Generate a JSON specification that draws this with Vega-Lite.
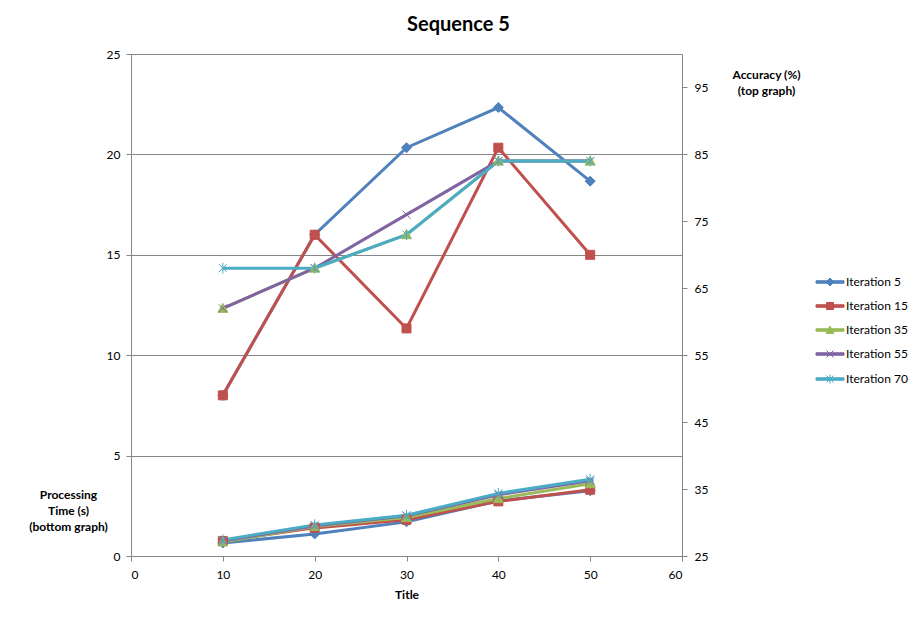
{
  "$schema": "https://vega.github.io/schema/vega-lite/v6.json",
  "width": 551,
  "height": 502,
  "autosize": {"type": "none"},
  "padding": {"left": 131, "top": 54, "right": 239, "bottom": 62},
  "background": "white",
  "title": {
    "text": "Sequence 5",
    "font": "Lato",
    "fontSize": 20,
    "fontWeight": "bold",
    "color": "black",
    "dx": 52,
    "offset": 13
  },
  "data": {
    "values": [
      {"x": 10, "series": "Iteration 5", "acc": 49, "time": 0.65},
      {"x": 20, "series": "Iteration 5", "acc": 73, "time": 1.1},
      {"x": 30, "series": "Iteration 5", "acc": 86, "time": 1.7},
      {"x": 40, "series": "Iteration 5", "acc": 92, "time": 2.75},
      {"x": 50, "series": "Iteration 5", "acc": 81, "time": 3.25},
      {"x": 10, "series": "Iteration 15", "acc": 49, "time": 0.75},
      {"x": 20, "series": "Iteration 15", "acc": 73, "time": 1.4},
      {"x": 30, "series": "Iteration 15", "acc": 59, "time": 1.8},
      {"x": 40, "series": "Iteration 15", "acc": 86, "time": 2.72},
      {"x": 50, "series": "Iteration 15", "acc": 70, "time": 3.3},
      {"x": 10, "series": "Iteration 35", "acc": 62, "time": 0.7},
      {"x": 20, "series": "Iteration 35", "acc": 68, "time": 1.47},
      {"x": 30, "series": "Iteration 35", "acc": 73, "time": 1.92},
      {"x": 40, "series": "Iteration 35", "acc": 84, "time": 2.86},
      {"x": 50, "series": "Iteration 35", "acc": 84, "time": 3.6},
      {"x": 10, "series": "Iteration 55", "acc": 62, "time": 0.75},
      {"x": 20, "series": "Iteration 55", "acc": 68, "time": 1.5},
      {"x": 30, "series": "Iteration 55", "acc": 76, "time": 2.0},
      {"x": 40, "series": "Iteration 55", "acc": 84, "time": 3.05},
      {"x": 50, "series": "Iteration 55", "acc": 84, "time": 3.75},
      {"x": 10, "series": "Iteration 70", "acc": 68, "time": 0.8},
      {"x": 20, "series": "Iteration 70", "acc": 68, "time": 1.55},
      {"x": 30, "series": "Iteration 70", "acc": 73, "time": 2.03},
      {"x": 40, "series": "Iteration 70", "acc": 84, "time": 3.12},
      {"x": 50, "series": "Iteration 70", "acc": 84, "time": 3.82}
    ]
  },
  "encoding": {
    "x": {
      "field": "x",
      "type": "quantitative",
      "scale": {"domain": [0, 60]},
      "axis": {
        "values": [0, 10, 20, 30, 40, 50, 60],
        "title": "Title",
        "grid": false,
        "labelPadding": 8,
        "titlePadding": 9
      }
    },
    "color": {
      "field": "series",
      "type": "nominal",
      "scale": {
        "domain": ["Iteration 5", "Iteration 15", "Iteration 35", "Iteration 55", "Iteration 70"],
        "range": ["#4F81BD", "#C0504D", "#9BBB59", "#8064A2", "#4BACC6"]
      },
      "legend": {
        "orient": "none",
        "legendX": 684,
        "legendY": 222,
        "title": null,
        "padding": 0,
        "symbolSize": 100,
        "symbolStrokeWidth": 1,
        "labelOffset": 19,
        "rowPadding": 12,
        "labelFont": "Lato",
        "labelFontSize": 12,
        "labelColor": "black"
      }
    },
    "stroke": {
      "field": "series",
      "type": "nominal",
      "scale": {
        "domain": ["Iteration 5", "Iteration 15", "Iteration 35", "Iteration 55", "Iteration 70"],
        "range": ["#4F81BD", "#C0504D", "#9BBB59", "#8064A2", "#4BACC6"]
      },
      "legend": {"title": null}
    }
  },
  "layer": [
    {
      "encoding": {
        "y": {
          "field": "time",
          "type": "quantitative",
          "scale": {"domain": [0, 25]},
          "axis": {
            "orient": "left",
            "values": [0, 5, 10, 15, 20, 25],
            "grid": true,
            "labelPadding": 6,
            "title": ["Processing", "Time (s)", "(bottom graph)"],
            "titleAngle": 0,
            "titleAlign": "center",
            "titleBaseline": "top",
            "titleX": -63,
            "titleY": 435,
            "titleLineHeight": 16
          }
        }
      },
      "layer": [
        {
          "mark": {"type": "point", "filled": true, "size": 1, "opacity": 1},
          "encoding": {
            "shape": {
              "field": "series",
              "type": "nominal",
              "scale": {
                "domain": ["Iteration 5", "Iteration 15", "Iteration 35", "Iteration 55", "Iteration 70"],
                "range": [
                  "M-1,-0.25H4.6V0.25H-1Z M1.8,-0.8L2.6,0L1.8,0.8L1,0Z",
                  "M-1,-0.25H4.6V0.25H-1Z M1.1,-0.7H2.5V0.7H1.1Z",
                  "M-1,-0.25H4.6V0.25H-1Z M1.8,-0.8L2.6,0.7H1Z",
                  "M-1,-0.25H4.6V0.25H-1Z M1.1,-0.7L2.5,0.7M1.1,0.7L2.5,-0.7",
                  "M-1,-0.25H4.6V0.25H-1Z M1.1,-0.7L2.5,0.7M1.1,0.7L2.5,-0.7M1.8,-0.9L1.8,0.9"
                ]
              },
              "legend": {"title": null}
            }
          }
        },
        {"mark": {"type": "line", "strokeWidth": 3}},
        {"transform": [{"filter": "datum.series === 'Iteration 5'"}], "mark": {"type": "point", "filled": true, "size": 100, "strokeWidth": 1, "opacity": 1, "shape": "M0,-1L1,0L0,1L-1,0Z"}},
        {"transform": [{"filter": "datum.series === 'Iteration 15'"}], "mark": {"type": "point", "filled": true, "size": 100, "strokeWidth": 1, "opacity": 1, "shape": "M-0.9,-0.9H0.9V0.9H-0.9Z"}},
        {"transform": [{"filter": "datum.series === 'Iteration 35'"}], "mark": {"type": "point", "filled": true, "size": 100, "strokeWidth": 1, "opacity": 1, "shape": "M0,-1L1,0.8H-1Z"}},
        {"transform": [{"filter": "datum.series === 'Iteration 55'"}], "mark": {"type": "point", "filled": true, "size": 100, "strokeWidth": 1, "opacity": 1, "shape": "M-0.8,-0.8L0.8,0.8M-0.8,0.8L0.8,-0.8"}},
        {"transform": [{"filter": "datum.series === 'Iteration 70'"}], "mark": {"type": "point", "filled": true, "size": 100, "strokeWidth": 1, "opacity": 1, "shape": "M-0.8,-0.8L0.8,0.8M-0.8,0.8L0.8,-0.8M0,-1.1L0,1.1"}}
      ]
    },
    {
      "encoding": {
        "y": {
          "field": "acc",
          "type": "quantitative",
          "scale": {"domain": [25, 100]},
          "axis": {
            "orient": "right",
            "values": [25, 35, 45, 55, 65, 75, 85, 95],
            "grid": false,
            "labelPadding": 7,
            "title": ["Accuracy  (%)", "(top graph)"],
            "titleAngle": 0,
            "titleAlign": "center",
            "titleBaseline": "top",
            "titleX": 84,
            "titleY": 15,
            "titleLineHeight": 16
          }
        }
      },
      "layer": [
        {"mark": {"type": "line", "strokeWidth": 3}},
        {"transform": [{"filter": "datum.series === 'Iteration 5'"}], "mark": {"type": "point", "filled": true, "size": 100, "strokeWidth": 1, "opacity": 1, "shape": "M0,-1L1,0L0,1L-1,0Z"}},
        {"transform": [{"filter": "datum.series === 'Iteration 15'"}], "mark": {"type": "point", "filled": true, "size": 100, "strokeWidth": 1, "opacity": 1, "shape": "M-0.9,-0.9H0.9V0.9H-0.9Z"}},
        {"transform": [{"filter": "datum.series === 'Iteration 35'"}], "mark": {"type": "point", "filled": true, "size": 100, "strokeWidth": 1, "opacity": 1, "shape": "M0,-1L1,0.8H-1Z"}},
        {"transform": [{"filter": "datum.series === 'Iteration 55'"}], "mark": {"type": "point", "filled": true, "size": 100, "strokeWidth": 1, "opacity": 1, "shape": "M-0.8,-0.8L0.8,0.8M-0.8,0.8L0.8,-0.8"}},
        {"transform": [{"filter": "datum.series === 'Iteration 70'"}], "mark": {"type": "point", "filled": true, "size": 100, "strokeWidth": 1, "opacity": 1, "shape": "M-0.8,-0.8L0.8,0.8M-0.8,0.8L0.8,-0.8M0,-1.1L0,1.1"}}
      ]
    }
  ],
  "resolve": {"scale": {"y": "independent"}},
  "config": {
    "view": {"stroke": null},
    "axis": {
      "domainColor": "#868686",
      "tickColor": "#868686",
      "gridColor": "#868686",
      "gridOpacity": 1,
      "tickSize": 5,
      "labelFont": "Lato",
      "labelFontSize": 12,
      "labelColor": "black",
      "titleFont": "Lato",
      "titleFontSize": 12,
      "titleFontWeight": "bold",
      "titleColor": "black"
    }
  }
}
